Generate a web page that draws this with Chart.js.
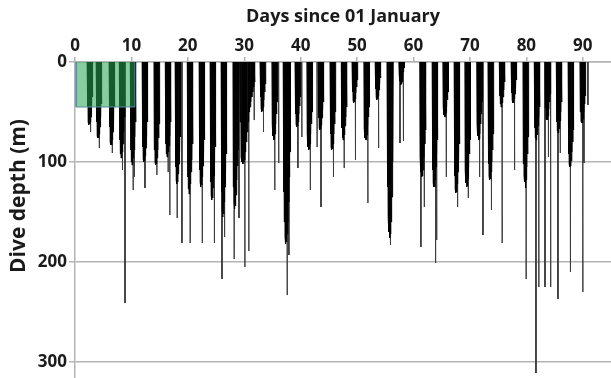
<!DOCTYPE html>
<html>
<head>
<meta charset="utf-8">
<script src="https://cdn.jsdelivr.net/npm/chart.js@4/dist/chart.umd.min.js"></script>
<style>
  html, body { margin: 0; padding: 0; background: #fff; }
  #wrap { width: 611px; height: 378px; }
</style>
</head>
<body>
<div id="wrap"><canvas id="c" width="611" height="378"></canvas></div>
<script>
// Daily dive bouts: start/end day of each bout and the max depth (m) of its dives, in order
const boutStart = [2.15, 3.75, 6.05, 7.85, 9.8, 11.9, 14.0, 16.0, 17.75, 19.9,
  22.0, 23.95, 25.9, 28.0, 29.2, 32.8, 34.9, 36.9, 39.0, 41.1,
  43.1, 45.2, 47.2, 49.1, 51.2, 53.2, 55.3, 57.4, 61.1, 63.3,
  65.2, 67.2, 69.1, 71.2, 73.2, 75.2, 77.3, 79.4, 81.4, 83.3,
  85.3, 87.4, 89.5];
const boutEnd = [3.15, 4.75, 7.05, 8.85, 10.8, 12.9, 15.0, 17.0, 18.75, 20.9,
  23.0, 24.95, 26.9, 29.0, 31.9, 33.8, 35.9, 38.2, 40.0, 42.1,
  44.1, 46.2, 48.2, 50.1, 52.2, 54.2, 56.4, 58.4, 62.2, 64.3,
  66.2, 68.2, 70.1, 72.2, 74.2, 76.2, 78.3, 80.4, 82.4, 84.3,
  86.3, 88.4, 90.5];
const boutDepths = [
  [45, 60, 63, 62, 60, 55, 45, 35], [60, 74, 76, 76, 72, 65, 55, 42],
  [65, 80, 83, 83, 78, 70, 60, 45], [78, 92, 96, 96, 90, 82, 70, 55],
  [88, 100, 103, 102, 96, 88, 75, 60], [85, 97, 100, 99, 94, 86, 75, 60],
  [88, 100, 103, 102, 96, 88, 76, 62], [82, 92, 95, 94, 90, 84, 74, 60],
  [105, 118, 122, 120, 112, 102, 90, 75], [115, 127, 132, 130, 122, 110, 98, 82],
  [108, 120, 125, 123, 115, 104, 92, 78], [120, 133, 138, 136, 126, 114, 100, 85],
  [130, 148, 155, 152, 140, 125, 110, 92], [125, 140, 147, 144, 133, 118, 104, 88],
  [60, 95, 100, 102, 100, 98, 90, 80, 70, 60, 50, 45, 40, 35, 30, 25, 20],
  [35, 46, 50, 49, 45, 38, 30, 22], [62, 74, 78, 77, 72, 62, 52, 40],
  [130, 160, 175, 182, 180, 172, 160, 140, 115, 90],
  [52, 62, 65, 64, 60, 52, 44, 35], [72, 85, 88, 87, 82, 72, 62, 50],
  [56, 66, 68, 67, 63, 56, 48, 40], [72, 85, 88, 87, 82, 72, 62, 50],
  [66, 76, 78, 78, 73, 64, 55, 45], [30, 38, 41, 40, 37, 31, 25, 18],
  [66, 76, 78, 78, 73, 64, 55, 45], [27, 35, 38, 37, 34, 28, 22, 16],
  [125, 155, 170, 176, 172, 160, 135, 100], [12, 19, 23, 22, 20, 15, 10, 6],
  [95, 110, 115, 114, 108, 95, 82, 68], [108, 121, 125, 125, 118, 105, 92, 78],
  [44, 53, 55, 55, 51, 45, 38, 30], [114, 127, 131, 130, 122, 110, 97, 82],
  [108, 121, 125, 124, 117, 105, 92, 78], [62, 74, 78, 77, 72, 62, 52, 40],
  [102, 114, 118, 117, 110, 100, 88, 72], [34, 42, 45, 45, 41, 35, 28, 20],
  [31, 38, 41, 41, 37, 32, 26, 18], [102, 114, 120, 126, 118, 105, 92, 75],
  [66, 76, 78, 78, 73, 64, 55, 45], [46, 56, 58, 58, 54, 47, 40, 32],
  [60, 69, 71, 71, 67, 59, 50, 40], [92, 102, 105, 104, 99, 90, 80, 68],
  [50, 59, 61, 61, 57, 50, 42, 34]
];

// Isolated deeper dives (day, max depth in m)
const deepDay = [2.75, 4.3, 6.6, 8.4, 8.86, 10.3, 10.5, 12.4, 14.5, 16.5,
  16.8, 18.1, 18.95, 20.4, 22.55, 24.7, 26.05, 26.5, 28.2, 29.06,
  30.1, 30.8, 31.75, 33.4, 35.4, 36.1, 37.6, 37.9, 39.5, 40.2,
  41.7, 42.9, 43.6, 45.8, 47.7, 49.7, 51.9, 53.8, 55.9, 57.6,
  58.2, 61.3, 61.9, 63.9, 64.1, 65.8, 67.8, 69.7, 71.7, 72.3,
  73.8, 75.7, 77.9, 79.95, 81.7, 82.2, 83.3, 83.9, 84.3, 85.6,
  86.0, 87.8, 90.0, 90.2, 90.9];
const deepDepth = [70, 86, 91, 108, 241, 128, 115, 126, 113, 110,
  153, 156, 181, 181, 181, 181, 217, 175, 197, 156,
  205, 189, 58, 70, 128, 101, 233, 193, 106, 75,
  128, 85, 145, 115, 106, 98, 141, 86, 183, 81,
  79, 185, 145, 201, 178, 115, 145, 136, 115, 173,
  148, 181, 108, 217, 311, 225, 225, 95, 225, 237,
  91, 210, 230, 101, 43];

// Highlighted period (days) and depth band (m)
const bandDays = [0.2, 10.6];
const bandDepth = 45;

// Surface -> bottom -> surface trace for each bout; null breaks the line between bouts
const boutTrace = [];
boutStart.forEach((s, i) => {
  const depths = boutDepths[i];
  const step = (boutEnd[i] - s) / depths.length;
  depths.forEach((d, j) => {
    const t = s + j * step;
    boutTrace.push({ x: t, y: 0 }, { x: t + step / 2, y: d });
  });
  boutTrace.push({ x: boutEnd[i], y: 0 }, { x: boutEnd[i], y: null });
});

const deepTrace = [];
deepDay.forEach((t, i) => {
  deepTrace.push({ x: t - 0.03, y: 0 }, { x: t, y: deepDepth[i] }, { x: t + 0.03, y: 0 }, { x: t, y: null });
});

const bandTrace = [
  { x: bandDays[0], y: 0 }, { x: bandDays[0], y: bandDepth },
  { x: bandDays[1], y: bandDepth }, { x: bandDays[1], y: 0 }
];

const font = 'Open Sans, Liberation Sans, sans-serif';
const ink = '#1a1a1a';
const gridGrey = '#b4b4b4';
const yTitle = 'Dive depth (m)';

// Rotated depth-axis title, placed beside the upper part of the axis
const yTitlePlugin = {
  id: 'yTitle',
  afterDraw(chart) {
    const ctx = chart.ctx;
    ctx.save();
    ctx.translate(19, 196);
    ctx.rotate(-Math.PI / 2);
    ctx.fillStyle = ink;
    ctx.font = 'bold 21px ' + font;
    ctx.textAlign = 'center';
    ctx.textBaseline = 'middle';
    ctx.fillText(yTitle, 0, 0);
    ctx.restore();
  }
};

new Chart(document.getElementById('c'), {
  type: 'scatter',
  data: {
    datasets: [
      {
        data: bandTrace, showLine: true, order: 0,
        borderColor: '#5a88a8', borderWidth: 1,
        backgroundColor: 'rgba(36,164,82,0.55)', fill: 'origin',
        pointRadius: 0, tension: 0
      },
      {
        data: boutTrace, showLine: true, order: 1, spanGaps: false,
        borderColor: '#000', borderWidth: 1, borderJoinStyle: 'bevel',
        pointRadius: 0, tension: 0, fill: false
      },
      {
        data: deepTrace, showLine: true, order: 2, spanGaps: false,
        borderColor: '#3c3c3c', borderWidth: 1, borderJoinStyle: 'bevel',
        pointRadius: 0, tension: 0, fill: false
      }
    ]
  },
  plugins: [yTitlePlugin],
  options: {
    responsive: false,
    animation: false,
    events: [],
    layout: { padding: 0 },
    plugins: { legend: { display: false }, tooltip: { enabled: false } },
    scales: {
      x: {
        type: 'linear', position: 'top', min: 0, max: 95,
        ticks: { stepSize: 10, includeBounds: false, color: ink, padding: 1,
          font: { family: font, size: 17, weight: 'bold' } },
        grid: { drawOnChartArea: false, drawTicks: true, tickLength: 5, color: gridGrey, lineWidth: 1.5 },
        border: { color: gridGrey, width: 1.5 },
        title: { display: true, text: 'Days since 01 January', color: ink,
          font: { family: font, size: 18, weight: 'bold' }, padding: { top: 6, bottom: 0 } },
        afterFit: s => { s.height = 62; s.paddingLeft = 0; s.paddingRight = 0; }
      },
      y: {
        type: 'linear', reverse: true, min: 0, max: 316,
        ticks: { stepSize: 100, includeBounds: false, color: ink, padding: 2,
          font: { family: font, size: 17, weight: 'bold' } },
        grid: { color: gridGrey, lineWidth: 1.5, tickLength: 6 },
        border: { color: gridGrey, width: 1.5 },
        title: { display: false },
        afterFit: s => { s.width = 75; s.paddingTop = 0; s.paddingBottom = 0; }
      }
    }
  }
});
</script>
</body>
</html>
